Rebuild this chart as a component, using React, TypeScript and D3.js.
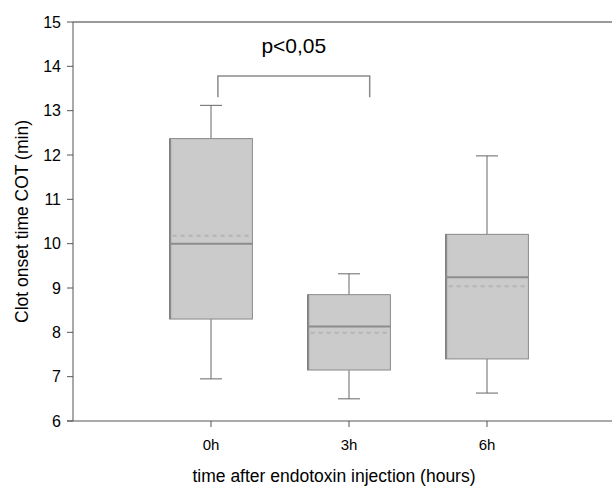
import React from "react";
import * as d3 from "d3";

const categories = ["0h", "3h", "6h"];
const whiskerLow = [6.95, 6.5, 6.63];
const q1 = [8.3, 7.15, 7.4];
const medians = [10.0, 8.13, 9.24];
const means = [10.18, 7.99, 9.04];
const q3 = [12.37, 8.85, 10.21];
const whiskerHigh = [13.12, 9.32, 11.98];
const yTicks = [6, 7, 8, 9, 10, 11, 12, 13, 14, 15];
const bracket = { from: 0.05, to: 1.15, top: 13.78, bottom: 13.3, label: "p<0,05" };

export default function App() {
  const W = 612, H = 487;
  const font = "'Liberation Sans', Arial, sans-serif";
  const x = d3.scaleLinear().domain([-1, 3]).range([73, 625]);
  const y = d3.scaleLinear().domain([6, 15]).range([421, 22]);
  const step = x(1) - x(0);
  const bw = step * 0.6;
  const capW = 22;
  return (
    <svg width={W} height={H} style={{ position: "absolute", left: 0, top: 0, background: "#fff" }} fontFamily={font}>
      {/* frame */}
      <line x1={73} x2={W} y1={y(15)} y2={y(15)} stroke="#9a9a9a" strokeWidth={2} />
      <line x1={73} x2={73} y1={y(15)} y2={y(6)} stroke="#555" strokeWidth={1} />
      <line x1={67} x2={W} y1={y(6)} y2={y(6)} stroke="#555" strokeWidth={1} />
      {yTicks.map((t) => (
        <g key={t}>
          <line x1={67} x2={73} y1={y(t)} y2={y(t)} stroke="#555" />
          <text x={61} y={y(t)} dy="0.35em" textAnchor="end" fontSize={16} fill="#000">{t}</text>
        </g>
      ))}
      {categories.map((c, i) => (
        <g key={c}>
          <line x1={x(i)} x2={x(i)} y1={y(6)} y2={y(6) + 6} stroke="#555" />
          <text x={x(i)} y={445} dy="0.35em" textAnchor="middle" fontSize={15} fill="#000">{c}</text>
        </g>
      ))}
      {categories.map((c, i) => {
        const cx = x(i);
        return (
          <g key={"b" + c}>
            <line x1={cx} x2={cx} y1={y(q3[i])} y2={y(whiskerHigh[i])} stroke="#666" />
            <line x1={cx - capW / 2} x2={cx + capW / 2} y1={y(whiskerHigh[i])} y2={y(whiskerHigh[i])} stroke="#666" />
            <line x1={cx} x2={cx} y1={y(q1[i])} y2={y(whiskerLow[i])} stroke="#666" />
            <line x1={cx - capW / 2} x2={cx + capW / 2} y1={y(whiskerLow[i])} y2={y(whiskerLow[i])} stroke="#666" />
            <rect x={cx - bw / 2} y={y(q3[i])} width={bw} height={y(q1[i]) - y(q3[i])} fill="#cbcbcb" stroke="#8a8a8a" strokeWidth={1} />
            <line x1={cx - bw / 2 + 0.5} x2={cx - bw / 2 + 0.5} y1={y(q3[i])} y2={y(q1[i])} stroke="#666" />
            <line x1={cx - bw / 2 + 2} x2={cx - bw / 2 + 2} y1={y(q3[i]) + 1} y2={y(q1[i]) - 1} stroke="#bdbdbd" />
            <line x1={cx - bw / 2} x2={cx + bw / 2} y1={y(medians[i])} y2={y(medians[i])} stroke="#8c8c8c" strokeWidth={2} />
            <line x1={cx - bw / 2 + 3} x2={cx + bw / 2 - 3} y1={y(means[i])} y2={y(means[i])} stroke="#b5b5b5" strokeWidth={2} strokeDasharray="4,4" />
          </g>
        );
      })}
      <path
        d={`M${x(bracket.from)},${y(bracket.bottom)}V${y(bracket.top)}H${x(bracket.to)}V${y(bracket.bottom)}`}
        fill="none" stroke="#8a8a8a" strokeWidth={1.5}
      />
      <text x={(x(bracket.from) + x(bracket.to)) / 2} y={53} textAnchor="middle" fontSize={21} fill="#000">{bracket.label}</text>
      <text x={334} y={476} dy="0.35em" textAnchor="middle" fontSize={17.5} fill="#000">time after endotoxin injection (hours)</text>
      <text transform={`translate(22,${(y(6) + y(15)) / 2}) rotate(-90)`} dy="0.35em" textAnchor="middle" fontSize={17.5} fill="#000">Clot onset time COT (min)</text>
    </svg>
  );
}
